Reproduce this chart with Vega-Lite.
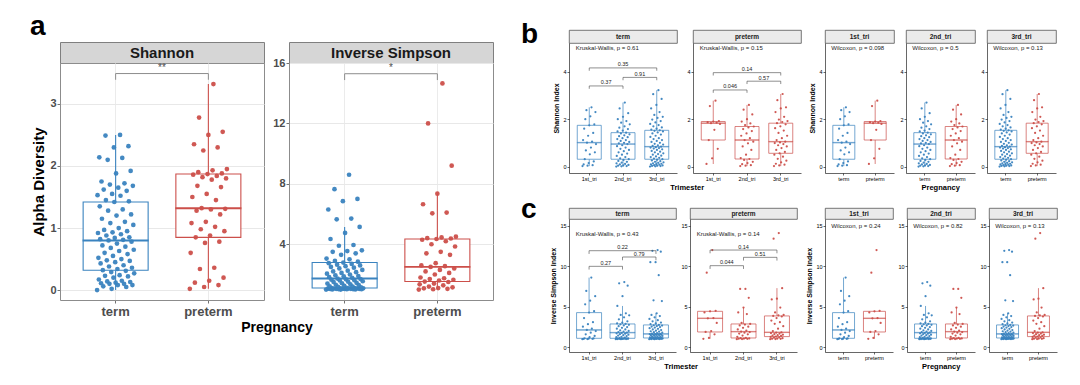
{"$schema":"https://vega.github.io/schema/vega-lite/v6.json","background":"white","padding":{"left":30,"top":13,"right":5,"bottom":5},
"config":{"font":"Liberation Sans","view":{"stroke":null},"axis":{"domainColor":"#000","domainWidth":0.6,"tickColor":"#000","tickWidth":0.6,"tickSize":2,"labelFontSize":5.5,"labelColor":"#000","titleFontSize":7,"titleFontWeight":"bold","titleColor":"#000","grid":false,"labelPadding":1,"titlePadding":3},"title":{"fontWeight":"bold","color":"#000"}},
"datasets":{
"A":[
{"p":"term","id":0,"s":0.0,"i":1.0},{"p":"term","id":33,"s":0.02,"i":1.0},{"p":"term","id":66,"s":0.05,"i":1.01},{"p":"term","id":14,"s":0.06,"i":1.01},{"p":"term","id":47,"s":0.08,"i":1.02},{"p":"term","id":80,"s":0.08,"i":1.02},{"p":"term","id":28,"s":0.1,"i":1.03},{"p":"term","id":61,"s":0.1,"i":1.03},{"p":"term","id":9,"s":0.11,"i":1.04},{"p":"term","id":42,"s":0.12,"i":1.04},
{"p":"term","id":75,"s":0.13,"i":1.05},{"p":"term","id":23,"s":0.14,"i":1.05},{"p":"term","id":56,"s":0.15,"i":1.05},{"p":"term","id":4,"s":0.17,"i":1.06},{"p":"term","id":37,"s":0.2,"i":1.06},{"p":"term","id":70,"s":0.22,"i":1.07},{"p":"term","id":18,"s":0.23,"i":1.07},{"p":"term","id":51,"s":0.24,"i":1.08},{"p":"term","id":84,"s":0.27,"i":1.08},{"p":"term","id":32,"s":0.29,"i":1.08},
{"p":"term","id":65,"s":0.31,"i":1.09},{"p":"term","id":13,"s":0.32,"i":1.1},{"p":"term","id":46,"s":0.34,"i":1.12},{"p":"term","id":79,"s":0.36,"i":1.15},{"p":"term","id":27,"s":0.38,"i":1.18},{"p":"term","id":60,"s":0.4,"i":1.2},{"p":"term","id":8,"s":0.43,"i":1.22},{"p":"term","id":41,"s":0.45,"i":1.25},{"p":"term","id":74,"s":0.47,"i":1.3},{"p":"term","id":22,"s":0.48,"i":1.32},
{"p":"term","id":55,"s":0.5,"i":1.35},{"p":"term","id":3,"s":0.52,"i":1.4},{"p":"term","id":36,"s":0.55,"i":1.42},{"p":"term","id":69,"s":0.58,"i":1.45},{"p":"term","id":17,"s":0.6,"i":1.5},{"p":"term","id":50,"s":0.63,"i":1.52},{"p":"term","id":83,"s":0.65,"i":1.55},{"p":"term","id":31,"s":0.68,"i":1.6},{"p":"term","id":64,"s":0.7,"i":1.62},{"p":"term","id":12,"s":0.72,"i":1.65},
{"p":"term","id":45,"s":0.75,"i":1.68},{"p":"term","id":78,"s":0.78,"i":1.7},{"p":"term","id":26,"s":0.8,"i":1.73},{"p":"term","id":59,"s":0.81,"i":1.78},{"p":"term","id":7,"s":0.82,"i":1.82},{"p":"term","id":40,"s":0.84,"i":1.88},{"p":"term","id":73,"s":0.85,"i":1.9},{"p":"term","id":21,"s":0.88,"i":1.95},{"p":"term","id":54,"s":0.9,"i":2.0},{"p":"term","id":2,"s":0.92,"i":2.05},
{"p":"term","id":35,"s":0.93,"i":2.1},{"p":"term","id":68,"s":0.95,"i":2.15},{"p":"term","id":16,"s":0.97,"i":2.2},{"p":"term","id":49,"s":1.0,"i":2.25},{"p":"term","id":82,"s":1.05,"i":2.3},{"p":"term","id":30,"s":1.08,"i":2.4},{"p":"term","id":63,"s":1.1,"i":2.45},{"p":"term","id":11,"s":1.15,"i":2.5},{"p":"term","id":44,"s":1.2,"i":2.55},{"p":"term","id":77,"s":1.22,"i":2.6},
{"p":"term","id":25,"s":1.28,"i":2.65},{"p":"term","id":58,"s":1.3,"i":2.7},{"p":"term","id":6,"s":1.35,"i":2.75},{"p":"term","id":39,"s":1.42,"i":2.79},{"p":"term","id":72,"s":1.43,"i":2.85},{"p":"term","id":20,"s":1.45,"i":2.9},{"p":"term","id":53,"s":1.52,"i":3.0},{"p":"term","id":1,"s":1.53,"i":3.05},{"p":"term","id":34,"s":1.55,"i":3.3},{"p":"term","id":67,"s":1.6,"i":3.4},
{"p":"term","id":15,"s":1.62,"i":3.5},{"p":"term","id":48,"s":1.65,"i":3.55},{"p":"term","id":81,"s":1.68,"i":3.6},{"p":"term","id":29,"s":1.7,"i":3.9},{"p":"term","id":62,"s":1.72,"i":3.95},{"p":"term","id":10,"s":1.75,"i":4.35},{"p":"term","id":43,"s":1.88,"i":4.75},{"p":"term","id":76,"s":1.92,"i":5.15},{"p":"term","id":24,"s":2.1,"i":5.65},{"p":"term","id":57,"s":2.13,"i":5.7},
{"p":"term","id":5,"s":2.14,"i":6.3},{"p":"term","id":38,"s":2.3,"i":6.85},{"p":"term","id":71,"s":2.32,"i":7.0},{"p":"term","id":19,"s":2.49,"i":7.65},{"p":"term","id":52,"s":2.5,"i":8.6},
{"p":"preterm","id":0,"s":0.02,"i":1.0},{"p":"preterm","id":17,"s":0.05,"i":1.02},{"p":"preterm","id":34,"s":0.08,"i":1.05},{"p":"preterm","id":6,"s":0.12,"i":1.08},{"p":"preterm","id":23,"s":0.15,"i":1.1},{"p":"preterm","id":40,"s":0.2,"i":1.15},{"p":"preterm","id":12,"s":0.34,"i":1.2},{"p":"preterm","id":29,"s":0.36,"i":1.28},{"p":"preterm","id":1,"s":0.6,"i":1.35},{"p":"preterm","id":18,"s":0.76,"i":1.4},
{"p":"preterm","id":35,"s":0.78,"i":1.5},{"p":"preterm","id":7,"s":0.85,"i":1.53},{"p":"preterm","id":24,"s":0.88,"i":1.6},{"p":"preterm","id":41,"s":0.95,"i":1.65},{"p":"preterm","id":13,"s":0.98,"i":1.7},{"p":"preterm","id":30,"s":1.02,"i":1.75},{"p":"preterm","id":2,"s":1.08,"i":1.8},{"p":"preterm","id":19,"s":1.1,"i":2.0},{"p":"preterm","id":36,"s":1.22,"i":2.1},{"p":"preterm","id":8,"s":1.28,"i":2.2},
{"p":"preterm","id":25,"s":1.3,"i":2.3},{"p":"preterm","id":42,"s":1.31,"i":2.4},{"p":"preterm","id":14,"s":1.32,"i":2.5},{"p":"preterm","id":31,"s":1.45,"i":2.55},{"p":"preterm","id":3,"s":1.5,"i":2.6},{"p":"preterm","id":20,"s":1.55,"i":2.75},{"p":"preterm","id":37,"s":1.66,"i":3.3},{"p":"preterm","id":9,"s":1.68,"i":3.4},{"p":"preterm","id":26,"s":1.78,"i":3.5},{"p":"preterm","id":43,"s":1.8,"i":3.85},
{"p":"preterm","id":15,"s":1.82,"i":4.0},{"p":"preterm","id":32,"s":1.84,"i":4.2},{"p":"preterm","id":4,"s":1.86,"i":4.3},{"p":"preterm","id":21,"s":1.87,"i":4.35},{"p":"preterm","id":38,"s":1.88,"i":4.38},{"p":"preterm","id":10,"s":1.9,"i":4.4},{"p":"preterm","id":27,"s":1.93,"i":4.45},{"p":"preterm","id":44,"s":1.95,"i":4.5},{"p":"preterm","id":16,"s":2.25,"i":6.05},{"p":"preterm","id":33,"s":2.3,"i":6.1},
{"p":"preterm","id":5,"s":2.35,"i":6.65},{"p":"preterm","id":22,"s":2.5,"i":7.35},{"p":"preterm","id":39,"s":2.55,"i":9.2},{"p":"preterm","id":11,"s":2.78,"i":12.0},{"p":"preterm","id":28,"s":3.32,"i":14.65}
],
"S":[
{"p":"term","t":"1st_tri","id":0,"s":0.02,"i":1.0},{"p":"term","t":"1st_tri","id":9,"s":0.04,"i":1.02},{"p":"term","t":"1st_tri","id":18,"s":0.06,"i":1.04},{"p":"term","t":"1st_tri","id":2,"s":0.09,"i":1.05},{"p":"term","t":"1st_tri","id":11,"s":0.15,"i":1.07},{"p":"term","t":"1st_tri","id":20,"s":0.22,"i":1.09},{"p":"term","t":"1st_tri","id":4,"s":0.31,"i":1.11},{"p":"term","t":"1st_tri","id":13,"s":0.52,"i":1.25},{"p":"term","t":"1st_tri","id":22,"s":0.6,"i":1.4},{"p":"term","t":"1st_tri","id":6,"s":0.68,"i":1.6},
{"p":"term","t":"1st_tri","id":15,"s":0.8,"i":1.8},{"p":"term","t":"1st_tri","id":24,"s":0.95,"i":2.0},{"p":"term","t":"1st_tri","id":8,"s":1.01,"i":2.14},{"p":"term","t":"1st_tri","id":17,"s":1.05,"i":2.3},{"p":"term","t":"1st_tri","id":1,"s":1.12,"i":2.55},{"p":"term","t":"1st_tri","id":10,"s":1.3,"i":2.85},{"p":"term","t":"1st_tri","id":19,"s":1.42,"i":3.1},{"p":"term","t":"1st_tri","id":3,"s":1.6,"i":3.6},{"p":"term","t":"1st_tri","id":12,"s":1.74,"i":4.28},{"p":"term","t":"1st_tri","id":21,"s":1.78,"i":4.45},
{"p":"term","t":"1st_tri","id":5,"s":2.0,"i":5.3},{"p":"term","t":"1st_tri","id":14,"s":2.12,"i":5.75},{"p":"term","t":"1st_tri","id":23,"s":2.3,"i":6.3},{"p":"term","t":"1st_tri","id":7,"s":2.38,"i":6.95},{"p":"term","t":"1st_tri","id":16,"s":2.5,"i":8.6},
{"p":"term","t":"2nd_tri","id":0,"s":0.0,"i":1.0},{"p":"term","t":"2nd_tri","id":20,"s":0.01,"i":1.0},{"p":"term","t":"2nd_tri","id":40,"s":0.02,"i":1.01},{"p":"term","t":"2nd_tri","id":7,"s":0.04,"i":1.02},{"p":"term","t":"2nd_tri","id":27,"s":0.05,"i":1.03},{"p":"term","t":"2nd_tri","id":47,"s":0.07,"i":1.04},{"p":"term","t":"2nd_tri","id":14,"s":0.09,"i":1.05},{"p":"term","t":"2nd_tri","id":34,"s":0.11,"i":1.06},{"p":"term","t":"2nd_tri","id":1,"s":0.14,"i":1.07},{"p":"term","t":"2nd_tri","id":21,"s":0.17,"i":1.08},
{"p":"term","t":"2nd_tri","id":41,"s":0.2,"i":1.09},{"p":"term","t":"2nd_tri","id":8,"s":0.24,"i":1.1},{"p":"term","t":"2nd_tri","id":28,"s":0.28,"i":1.1},{"p":"term","t":"2nd_tri","id":48,"s":0.31,"i":1.11},{"p":"term","t":"2nd_tri","id":15,"s":0.35,"i":1.15},{"p":"term","t":"2nd_tri","id":35,"s":0.4,"i":1.2},{"p":"term","t":"2nd_tri","id":2,"s":0.45,"i":1.25},{"p":"term","t":"2nd_tri","id":22,"s":0.5,"i":1.3},{"p":"term","t":"2nd_tri","id":42,"s":0.55,"i":1.38},{"p":"term","t":"2nd_tri","id":9,"s":0.6,"i":1.45},
{"p":"term","t":"2nd_tri","id":29,"s":0.65,"i":1.5},{"p":"term","t":"2nd_tri","id":49,"s":0.7,"i":1.56},{"p":"term","t":"2nd_tri","id":16,"s":0.75,"i":1.62},{"p":"term","t":"2nd_tri","id":36,"s":0.8,"i":1.68},{"p":"term","t":"2nd_tri","id":3,"s":0.86,"i":1.72},{"p":"term","t":"2nd_tri","id":23,"s":0.9,"i":1.77},{"p":"term","t":"2nd_tri","id":43,"s":0.95,"i":1.81},{"p":"term","t":"2nd_tri","id":10,"s":0.98,"i":1.88},{"p":"term","t":"2nd_tri","id":30,"s":1.0,"i":1.95},{"p":"term","t":"2nd_tri","id":50,"s":1.04,"i":2.02},
{"p":"term","t":"2nd_tri","id":17,"s":1.08,"i":2.1},{"p":"term","t":"2nd_tri","id":37,"s":1.12,"i":2.2},{"p":"term","t":"2nd_tri","id":4,"s":1.16,"i":2.3},{"p":"term","t":"2nd_tri","id":24,"s":1.2,"i":2.4},{"p":"term","t":"2nd_tri","id":44,"s":1.24,"i":2.5},{"p":"term","t":"2nd_tri","id":11,"s":1.28,"i":2.6},{"p":"term","t":"2nd_tri","id":31,"s":1.32,"i":2.7},{"p":"term","t":"2nd_tri","id":51,"s":1.36,"i":2.78},{"p":"term","t":"2nd_tri","id":18,"s":1.4,"i":2.84},{"p":"term","t":"2nd_tri","id":38,"s":1.43,"i":2.88},
{"p":"term","t":"2nd_tri","id":5,"s":1.48,"i":2.95},{"p":"term","t":"2nd_tri","id":25,"s":1.52,"i":3.05},{"p":"term","t":"2nd_tri","id":45,"s":1.58,"i":3.2},{"p":"term","t":"2nd_tri","id":12,"s":1.64,"i":3.45},{"p":"term","t":"2nd_tri","id":32,"s":1.7,"i":3.7},{"p":"term","t":"2nd_tri","id":52,"s":1.78,"i":3.95},{"p":"term","t":"2nd_tri","id":19,"s":1.85,"i":4.0},{"p":"term","t":"2nd_tri","id":39,"s":1.92,"i":4.2},{"p":"term","t":"2nd_tri","id":6,"s":2.0,"i":5.1},{"p":"term","t":"2nd_tri","id":26,"s":2.1,"i":6.3},
{"p":"term","t":"2nd_tri","id":46,"s":2.25,"i":7.6},{"p":"term","t":"2nd_tri","id":13,"s":2.45,"i":7.9},{"p":"term","t":"2nd_tri","id":33,"s":2.7,"i":8.05},
{"p":"term","t":"3rd_tri","id":0,"s":0.0,"i":1.0},{"p":"term","t":"3rd_tri","id":28,"s":0.01,"i":1.0},{"p":"term","t":"3rd_tri","id":56,"s":0.02,"i":1.01},{"p":"term","t":"3rd_tri","id":11,"s":0.03,"i":1.02},{"p":"term","t":"3rd_tri","id":39,"s":0.04,"i":1.03},{"p":"term","t":"3rd_tri","id":67,"s":0.05,"i":1.04},{"p":"term","t":"3rd_tri","id":22,"s":0.06,"i":1.05},{"p":"term","t":"3rd_tri","id":50,"s":0.08,"i":1.05},{"p":"term","t":"3rd_tri","id":5,"s":0.09,"i":1.06},{"p":"term","t":"3rd_tri","id":33,"s":0.1,"i":1.07},
{"p":"term","t":"3rd_tri","id":61,"s":0.12,"i":1.08},{"p":"term","t":"3rd_tri","id":16,"s":0.14,"i":1.09},{"p":"term","t":"3rd_tri","id":44,"s":0.16,"i":1.1},{"p":"term","t":"3rd_tri","id":72,"s":0.18,"i":1.1},{"p":"term","t":"3rd_tri","id":27,"s":0.2,"i":1.11},{"p":"term","t":"3rd_tri","id":55,"s":0.23,"i":1.12},{"p":"term","t":"3rd_tri","id":10,"s":0.26,"i":1.13},{"p":"term","t":"3rd_tri","id":38,"s":0.29,"i":1.14},{"p":"term","t":"3rd_tri","id":66,"s":0.31,"i":1.15},{"p":"term","t":"3rd_tri","id":21,"s":0.34,"i":1.18},
{"p":"term","t":"3rd_tri","id":49,"s":0.37,"i":1.2},{"p":"term","t":"3rd_tri","id":4,"s":0.4,"i":1.23},{"p":"term","t":"3rd_tri","id":32,"s":0.43,"i":1.26},{"p":"term","t":"3rd_tri","id":60,"s":0.46,"i":1.3},{"p":"term","t":"3rd_tri","id":15,"s":0.5,"i":1.33},{"p":"term","t":"3rd_tri","id":43,"s":0.53,"i":1.36},{"p":"term","t":"3rd_tri","id":71,"s":0.56,"i":1.4},{"p":"term","t":"3rd_tri","id":26,"s":0.6,"i":1.43},{"p":"term","t":"3rd_tri","id":54,"s":0.63,"i":1.46},{"p":"term","t":"3rd_tri","id":9,"s":0.66,"i":1.5},
{"p":"term","t":"3rd_tri","id":37,"s":0.7,"i":1.52},{"p":"term","t":"3rd_tri","id":65,"s":0.73,"i":1.55},{"p":"term","t":"3rd_tri","id":20,"s":0.76,"i":1.58},{"p":"term","t":"3rd_tri","id":48,"s":0.78,"i":1.6},{"p":"term","t":"3rd_tri","id":3,"s":0.8,"i":1.62},{"p":"term","t":"3rd_tri","id":31,"s":0.82,"i":1.63},{"p":"term","t":"3rd_tri","id":59,"s":0.84,"i":1.65},{"p":"term","t":"3rd_tri","id":14,"s":0.87,"i":1.7},{"p":"term","t":"3rd_tri","id":42,"s":0.9,"i":1.75},{"p":"term","t":"3rd_tri","id":70,"s":0.93,"i":1.8},
{"p":"term","t":"3rd_tri","id":25,"s":0.96,"i":1.86},{"p":"term","t":"3rd_tri","id":53,"s":1.0,"i":1.92},{"p":"term","t":"3rd_tri","id":8,"s":1.04,"i":1.98},{"p":"term","t":"3rd_tri","id":36,"s":1.08,"i":2.05},{"p":"term","t":"3rd_tri","id":64,"s":1.12,"i":2.12},{"p":"term","t":"3rd_tri","id":19,"s":1.16,"i":2.2},{"p":"term","t":"3rd_tri","id":47,"s":1.2,"i":2.28},{"p":"term","t":"3rd_tri","id":2,"s":1.25,"i":2.36},{"p":"term","t":"3rd_tri","id":30,"s":1.3,"i":2.44},{"p":"term","t":"3rd_tri","id":58,"s":1.35,"i":2.5},
{"p":"term","t":"3rd_tri","id":13,"s":1.4,"i":2.56},{"p":"term","t":"3rd_tri","id":41,"s":1.44,"i":2.62},{"p":"term","t":"3rd_tri","id":69,"s":1.48,"i":2.68},{"p":"term","t":"3rd_tri","id":24,"s":1.51,"i":2.72},{"p":"term","t":"3rd_tri","id":52,"s":1.53,"i":2.76},{"p":"term","t":"3rd_tri","id":7,"s":1.56,"i":2.85},{"p":"term","t":"3rd_tri","id":35,"s":1.6,"i":2.95},{"p":"term","t":"3rd_tri","id":63,"s":1.65,"i":3.05},{"p":"term","t":"3rd_tri","id":18,"s":1.7,"i":3.2},{"p":"term","t":"3rd_tri","id":46,"s":1.75,"i":3.35},
{"p":"term","t":"3rd_tri","id":1,"s":1.8,"i":3.5},{"p":"term","t":"3rd_tri","id":29,"s":1.86,"i":3.7},{"p":"term","t":"3rd_tri","id":57,"s":1.92,"i":3.85},{"p":"term","t":"3rd_tri","id":12,"s":1.98,"i":4.0},{"p":"term","t":"3rd_tri","id":40,"s":2.05,"i":4.2},{"p":"term","t":"3rd_tri","id":68,"s":2.1,"i":5.7},{"p":"term","t":"3rd_tri","id":23,"s":2.18,"i":5.8},{"p":"term","t":"3rd_tri","id":51,"s":2.3,"i":8.9},{"p":"term","t":"3rd_tri","id":6,"s":2.45,"i":10.5},{"p":"term","t":"3rd_tri","id":34,"s":2.6,"i":10.5},
{"p":"term","t":"3rd_tri","id":62,"s":2.85,"i":11.8},{"p":"term","t":"3rd_tri","id":17,"s":3.05,"i":11.9},{"p":"term","t":"3rd_tri","id":45,"s":3.22,"i":12.0},
{"p":"preterm","t":"1st_tri","id":0,"s":0.11,"i":1.05},{"p":"preterm","t":"1st_tri","id":5,"s":0.35,"i":1.15},{"p":"preterm","t":"1st_tri","id":10,"s":0.75,"i":1.6},{"p":"preterm","t":"1st_tri","id":2,"s":1.12,"i":1.89},{"p":"preterm","t":"1st_tri","id":7,"s":1.55,"i":2.0},{"p":"preterm","t":"1st_tri","id":12,"s":1.8,"i":3.0},{"p":"preterm","t":"1st_tri","id":4,"s":1.83,"i":3.58},{"p":"preterm","t":"1st_tri","id":9,"s":1.85,"i":3.6},{"p":"preterm","t":"1st_tri","id":1,"s":1.87,"i":4.3},{"p":"preterm","t":"1st_tri","id":6,"s":1.9,"i":4.44},
{"p":"preterm","t":"1st_tri","id":11,"s":1.92,"i":4.5},{"p":"preterm","t":"1st_tri","id":3,"s":2.55,"i":9.2},{"p":"preterm","t":"1st_tri","id":8,"s":2.78,"i":12.0},
{"p":"preterm","t":"2nd_tri","id":0,"s":0.02,"i":1.0},{"p":"preterm","t":"2nd_tri","id":11,"s":0.04,"i":1.02},{"p":"preterm","t":"2nd_tri","id":22,"s":0.06,"i":1.04},{"p":"preterm","t":"2nd_tri","id":4,"s":0.1,"i":1.06},{"p":"preterm","t":"2nd_tri","id":15,"s":0.15,"i":1.08},{"p":"preterm","t":"2nd_tri","id":26,"s":0.2,"i":1.1},{"p":"preterm","t":"2nd_tri","id":8,"s":0.28,"i":1.13},{"p":"preterm","t":"2nd_tri","id":19,"s":0.32,"i":1.15},{"p":"preterm","t":"2nd_tri","id":1,"s":0.36,"i":1.3},{"p":"preterm","t":"2nd_tri","id":12,"s":0.5,"i":1.45},
{"p":"preterm","t":"2nd_tri","id":23,"s":0.7,"i":1.6},{"p":"preterm","t":"2nd_tri","id":5,"s":0.85,"i":1.7},{"p":"preterm","t":"2nd_tri","id":16,"s":0.98,"i":1.8},{"p":"preterm","t":"2nd_tri","id":27,"s":1.05,"i":1.88},{"p":"preterm","t":"2nd_tri","id":9,"s":1.12,"i":1.93},{"p":"preterm","t":"2nd_tri","id":20,"s":1.2,"i":2.05},{"p":"preterm","t":"2nd_tri","id":2,"s":1.3,"i":2.2},{"p":"preterm","t":"2nd_tri","id":13,"s":1.4,"i":2.4},{"p":"preterm","t":"2nd_tri","id":24,"s":1.5,"i":2.55},{"p":"preterm","t":"2nd_tri","id":6,"s":1.58,"i":2.7},
{"p":"preterm","t":"2nd_tri","id":17,"s":1.65,"i":2.8},{"p":"preterm","t":"2nd_tri","id":28,"s":1.69,"i":2.88},{"p":"preterm","t":"2nd_tri","id":10,"s":1.75,"i":3.0},{"p":"preterm","t":"2nd_tri","id":21,"s":1.82,"i":4.1},{"p":"preterm","t":"2nd_tri","id":3,"s":1.9,"i":4.3},{"p":"preterm","t":"2nd_tri","id":14,"s":2.0,"i":4.9},{"p":"preterm","t":"2nd_tri","id":25,"s":2.2,"i":6.1},{"p":"preterm","t":"2nd_tri","id":7,"s":2.4,"i":7.2},{"p":"preterm","t":"2nd_tri","id":18,"s":2.6,"i":7.2},
{"p":"preterm","t":"3rd_tri","id":0,"s":0.02,"i":1.0},{"p":"preterm","t":"3rd_tri","id":14,"s":0.05,"i":1.02},{"p":"preterm","t":"3rd_tri","id":28,"s":0.08,"i":1.04},{"p":"preterm","t":"3rd_tri","id":5,"s":0.12,"i":1.06},{"p":"preterm","t":"3rd_tri","id":19,"s":0.18,"i":1.08},{"p":"preterm","t":"3rd_tri","id":33,"s":0.25,"i":1.12},{"p":"preterm","t":"3rd_tri","id":10,"s":0.33,"i":1.18},{"p":"preterm","t":"3rd_tri","id":24,"s":0.42,"i":1.22},{"p":"preterm","t":"3rd_tri","id":1,"s":0.5,"i":1.28},{"p":"preterm","t":"3rd_tri","id":15,"s":0.56,"i":1.32},
{"p":"preterm","t":"3rd_tri","id":29,"s":0.62,"i":1.4},{"p":"preterm","t":"3rd_tri","id":6,"s":0.7,"i":1.45},{"p":"preterm","t":"3rd_tri","id":20,"s":0.78,"i":1.5},{"p":"preterm","t":"3rd_tri","id":34,"s":0.85,"i":1.55},{"p":"preterm","t":"3rd_tri","id":11,"s":0.9,"i":1.62},{"p":"preterm","t":"3rd_tri","id":25,"s":0.95,"i":1.7},{"p":"preterm","t":"3rd_tri","id":2,"s":0.99,"i":1.76},{"p":"preterm","t":"3rd_tri","id":16,"s":1.02,"i":1.8},{"p":"preterm","t":"3rd_tri","id":30,"s":1.05,"i":1.85},{"p":"preterm","t":"3rd_tri","id":7,"s":1.12,"i":2.0},
{"p":"preterm","t":"3rd_tri","id":21,"s":1.2,"i":2.3},{"p":"preterm","t":"3rd_tri","id":35,"s":1.3,"i":2.6},{"p":"preterm","t":"3rd_tri","id":12,"s":1.42,"i":2.9},{"p":"preterm","t":"3rd_tri","id":26,"s":1.52,"i":3.1},{"p":"preterm","t":"3rd_tri","id":3,"s":1.62,"i":3.3},{"p":"preterm","t":"3rd_tri","id":17,"s":1.7,"i":3.6},{"p":"preterm","t":"3rd_tri","id":31,"s":1.78,"i":3.8},{"p":"preterm","t":"3rd_tri","id":8,"s":1.83,"i":3.87},{"p":"preterm","t":"3rd_tri","id":22,"s":1.88,"i":3.95},{"p":"preterm","t":"3rd_tri","id":36,"s":1.92,"i":4.0},
{"p":"preterm","t":"3rd_tri","id":13,"s":1.98,"i":4.3},{"p":"preterm","t":"3rd_tri","id":27,"s":2.1,"i":4.9},{"p":"preterm","t":"3rd_tri","id":4,"s":2.3,"i":5.9},{"p":"preterm","t":"3rd_tri","id":18,"s":2.45,"i":6.0},{"p":"preterm","t":"3rd_tri","id":32,"s":2.5,"i":7.3},{"p":"preterm","t":"3rd_tri","id":9,"s":2.8,"i":13.4},{"p":"preterm","t":"3rd_tri","id":23,"s":3.06,"i":14.1}
],
"BR":[
{"g":"aS","x1":1,"x2":2,"xm":1.5,"y":3.49,"yt":3.39,"lab":"**"},
{"g":"aI","x1":1,"x2":2,"xm":1.5,"y":15.29,"yt":14.87,"lab":"*"},
{"g":"bT","x1":1,"x2":2,"xm":1.5,"y":3.4,"yt":3.28,"lab":"0.37"},
{"g":"bT","x1":2,"x2":3,"xm":2.5,"y":3.76,"yt":3.64,"lab":"0.91"},
{"g":"bT","x1":1,"x2":3,"xm":2,"y":4.16,"yt":4.04,"lab":"0.35"},
{"g":"bP","x1":1,"x2":2,"xm":1.5,"y":3.23,"yt":3.11,"lab":"0.046"},
{"g":"bP","x1":2,"x2":3,"xm":2.5,"y":3.6,"yt":3.48,"lab":"0.57"},
{"g":"bP","x1":1,"x2":3,"xm":2,"y":3.96,"yt":3.84,"lab":"0.14"},
{"g":"cT","x1":1,"x2":2,"xm":1.5,"y":9.99,"yt":9.59,"lab":"0.27"},
{"g":"cT","x1":2,"x2":3,"xm":2.5,"y":11.14,"yt":10.74,"lab":"0.79"},
{"g":"cT","x1":1,"x2":3,"xm":2,"y":11.92,"yt":11.52,"lab":"0.22"},
{"g":"cP","x1":1,"x2":2,"xm":1.5,"y":10.07,"yt":9.67,"lab":"0.044"},
{"g":"cP","x1":2,"x2":3,"xm":2.5,"y":11.1,"yt":10.7,"lab":"0.51"},
{"g":"cP","x1":1,"x2":3,"xm":2,"y":12.0,"yt":11.6,"lab":"0.14"}
],
"TT":[
{"g":"bT","x":0.6,"y":5.0,"lab":"Kruskal-Wallis, p = 0.61"},
{"g":"bP","x":0.6,"y":5.0,"lab":"Kruskal-Wallis, p = 0.15"},
{"g":"b1","x":0.6,"y":5.0,"lab":"Wilcoxon, p = 0.098"},
{"g":"b2","x":0.6,"y":5.0,"lab":"Wilcoxon, p = 0.5"},
{"g":"b3","x":0.6,"y":5.0,"lab":"Wilcoxon, p = 0.13"},
{"g":"cT","x":0.6,"y":14.0,"lab":"Kruskal-Wallis, p = 0.43"},
{"g":"cP","x":0.6,"y":14.0,"lab":"Kruskal-Wallis, p = 0.14"},
{"g":"c1","x":0.6,"y":15.0,"lab":"Wilcoxon, p = 0.24"},
{"g":"c2","x":0.6,"y":15.0,"lab":"Wilcoxon, p = 0.82"},
{"g":"c3","x":0.6,"y":15.0,"lab":"Wilcoxon, p = 0.13"}
]
},
"spacing":27,
"resolve":{"scale":{"xOffset":"independent"}},
"hconcat":[
{"spacing":0,"resolve":{"scale":{"xOffset":"independent"}},"vconcat":[
{"width":1,"height":11,"data":{"values":[{"lab":"a"}]},"mark":{"type":"text","fontSize":28,"fontWeight":"bold","color":"#000","align":"left","baseline":"bottom","dx":-30.5,"dy":5.5},"encoding":{"text":{"field":"lab","type":"nominal"}}},
{"title":{"text":"Pregnancy","orient":"bottom","frame":"bounds","anchor":"middle","fontSize":14,"offset":2,"dx":14.5},"spacing":7,"resolve":{"scale":{"xOffset":"independent"}},"hconcat":[
{"bounds":"flush","spacing":0,"vconcat":[
{"width":204,"height":21,"data":{"values":[{"lab":"Shannon"}]},"mark":{"type":"text","fontSize":15,"fontWeight":"bold","color":"#1a1a1a"},"encoding":{"text":{"field":"lab","type":"nominal"}},"view":{"fill":"#d6d6d6","stroke":"#7f7f7f","strokeWidth":1}},
{"width":204,"height":237,"view":{"stroke":"#8c8c8c","strokeWidth":1},"resolve":{"scale":{"x":"independent"}},"layer":[
{"data":{"name":"A"},"mark":{"type":"boxplot","extent":1.5,"size":65,"outliers":false,"box":{"fill":"white","strokeWidth":1.1},"median":{"fillOpacity":0,"strokeWidth":1.1,"thickness":0.8},"rule":{"strokeWidth":1.1}},
"encoding":{"x":{"field":"p","type":"nominal","scale":{"domain":["term","preterm"],"paddingInner":0,"paddingOuter":0.1},"axis":{"title":null,"labelAngle":0,"labelFontSize":13,"labelFontWeight":"bold","labelColor":"#4d4d4d","tickColor":"#4d4d4d","tickSize":3,"tickWidth":0.8,"labelPadding":2,"domain":false,"grid":true,"gridColor":"#ebebeb","gridWidth":1,"bandPosition":0.5}},
"y":{"field":"s","type":"quantitative","scale":{"domain":[-0.16,3.66],"nice":false,"zero":false},"axis":{"values":[0,0.5,1,1.5,2,2.5,3,3.5],"format":"d","labelOverlap":false,"labelExpr":"datum.value % 1 === 0 ? datum.label : ''","title":"Alpha Diversity","titleFontSize":15,"titleFontWeight":"bold","titleColor":"#000","titlePadding":3,"labelFontSize":11,"labelFontWeight":"bold","labelColor":"#4d4d4d","labelPadding":1,"tickSize":3,"tickWidth":0.8,"tickColor":{"condition":{"test":"datum.value % 1 !== 0","value":"transparent"},"value":"#4d4d4d"},"domain":false,"grid":true,"gridWidth":1,"gridColor":{"condition":{"test":"datum.value % 1 !== 0","value":"#f5f5f5"},"value":"#e8e8e8"}}},
"stroke":{"field":"p","type":"nominal","scale":{"domain":["term","preterm"],"range":["#3a83bf","#cc4f4a"]},"legend":null}}},
{"data":{"name":"A"},"transform":[{"window":[{"op":"percent_rank","as":"jit"}],"sort":[{"field":"id"}],"groupby":["p"]}],"mark":{"type":"circle","size":22,"opacity":0.95},
"encoding":{"x":{"field":"p","type":"nominal","scale":{"domain":["term","preterm"],"paddingInner":0,"paddingOuter":0.1},"axis":null},"xOffset":{"field":"jit","type":"quantitative","scale":{"domain":[-0.75,1.75]}},"y":{"field":"s","type":"quantitative"},"color":{"field":"p","type":"nominal","scale":{"domain":["term","preterm"],"range":["#3a83bf","#cc4f4a"]},"legend":null}}},
{"data":{"name":"BR"},"transform":[{"filter":{"field":"g","equal":"aS"}}],"mark":{"type":"rule","color":"#8c8c8c","strokeWidth":1},"encoding":{"x":{"field":"x1","type":"quantitative","scale":{"domain":[0.4,2.6],"nice":false,"zero":false},"axis":null},"x2":{"field":"x2"},"y":{"field":"y","type":"quantitative"}}},
{"data":{"name":"BR"},"transform":[{"filter":{"field":"g","equal":"aS"}}],"mark":{"type":"rule","color":"#8c8c8c","strokeWidth":1},"encoding":{"x":{"field":"x1","type":"quantitative","scale":{"domain":[0.4,2.6],"nice":false,"zero":false},"axis":null},"y":{"field":"y","type":"quantitative"},"y2":{"field":"yt"}}},
{"data":{"name":"BR"},"transform":[{"filter":{"field":"g","equal":"aS"}}],"mark":{"type":"rule","color":"#8c8c8c","strokeWidth":1},"encoding":{"x":{"field":"x2","type":"quantitative","scale":{"domain":[0.4,2.6],"nice":false,"zero":false},"axis":null},"y":{"field":"y","type":"quantitative"},"y2":{"field":"yt"}}},
{"data":{"name":"BR"},"transform":[{"filter":{"field":"g","equal":"aS"}}],"mark":{"type":"text","fontSize":10,"baseline":"bottom","dy":-1,"color":"#4d4d4d"},"encoding":{"x":{"field":"xm","type":"quantitative","scale":{"domain":[0.4,2.6],"nice":false,"zero":false},"axis":null},"y":{"field":"y","type":"quantitative"},"text":{"field":"lab"}}}
]}
]},
{"bounds":"flush","spacing":0,"vconcat":[
{"width":204,"height":21,"data":{"values":[{"lab":"Inverse Simpson"}]},"mark":{"type":"text","fontSize":15,"fontWeight":"bold","color":"#1a1a1a"},"encoding":{"text":{"field":"lab","type":"nominal"}},"view":{"fill":"#d6d6d6","stroke":"#7f7f7f","strokeWidth":1}},
{"width":204,"height":237,"view":{"stroke":"#8c8c8c","strokeWidth":1},"resolve":{"scale":{"x":"independent"}},"layer":[
{"data":{"name":"A"},"mark":{"type":"boxplot","extent":1.5,"size":65,"outliers":false,"box":{"fill":"white","strokeWidth":1.1},"median":{"fillOpacity":0,"strokeWidth":1.1,"thickness":0.8},"rule":{"strokeWidth":1.1}},
"encoding":{"x":{"field":"p","type":"nominal","scale":{"domain":["term","preterm"],"paddingInner":0,"paddingOuter":0.1},"axis":{"title":null,"labelAngle":0,"labelFontSize":13,"labelFontWeight":"bold","labelColor":"#4d4d4d","tickColor":"#4d4d4d","tickSize":3,"tickWidth":0.8,"labelPadding":2,"domain":false,"grid":true,"gridColor":"#ebebeb","gridWidth":1,"bandPosition":0.5}},
"y":{"field":"i","type":"quantitative","scale":{"domain":[0.31,16],"nice":false,"zero":false},"axis":{"values":[4,8,12,16],"labelOverlap":false,"title":null,"labelFontSize":11,"labelFontWeight":"bold","labelColor":"#4d4d4d","labelPadding":1,"tickSize":3,"tickWidth":0.8,"tickColor":"#4d4d4d","domain":false,"grid":true,"gridWidth":1,"gridColor":"#e8e8e8"}},
"stroke":{"field":"p","type":"nominal","scale":{"domain":["term","preterm"],"range":["#3a83bf","#cc4f4a"]},"legend":null}}},
{"data":{"name":"A"},"transform":[{"window":[{"op":"percent_rank","as":"jit"}],"sort":[{"field":"id"}],"groupby":["p"]}],"mark":{"type":"circle","size":22,"opacity":0.95},
"encoding":{"x":{"field":"p","type":"nominal","scale":{"domain":["term","preterm"],"paddingInner":0,"paddingOuter":0.1},"axis":null},"xOffset":{"field":"jit","type":"quantitative","scale":{"domain":[-0.75,1.75]}},"y":{"field":"i","type":"quantitative"},"color":{"field":"p","type":"nominal","scale":{"domain":["term","preterm"],"range":["#3a83bf","#cc4f4a"]},"legend":null}}},
{"data":{"name":"BR"},"transform":[{"filter":{"field":"g","equal":"aI"}}],"mark":{"type":"rule","color":"#8c8c8c","strokeWidth":1},"encoding":{"x":{"field":"x1","type":"quantitative","scale":{"domain":[0.4,2.6],"nice":false,"zero":false},"axis":null},"x2":{"field":"x2"},"y":{"field":"y","type":"quantitative"}}},
{"data":{"name":"BR"},"transform":[{"filter":{"field":"g","equal":"aI"}}],"mark":{"type":"rule","color":"#8c8c8c","strokeWidth":1},"encoding":{"x":{"field":"x1","type":"quantitative","scale":{"domain":[0.4,2.6],"nice":false,"zero":false},"axis":null},"y":{"field":"y","type":"quantitative"},"y2":{"field":"yt"}}},
{"data":{"name":"BR"},"transform":[{"filter":{"field":"g","equal":"aI"}}],"mark":{"type":"rule","color":"#8c8c8c","strokeWidth":1},"encoding":{"x":{"field":"x2","type":"quantitative","scale":{"domain":[0.4,2.6],"nice":false,"zero":false},"axis":null},"y":{"field":"y","type":"quantitative"},"y2":{"field":"yt"}}},
{"data":{"name":"BR"},"transform":[{"filter":{"field":"g","equal":"aI"}}],"mark":{"type":"text","fontSize":10,"baseline":"bottom","dy":-1,"color":"#4d4d4d"},"encoding":{"x":{"field":"xm","type":"quantitative","scale":{"domain":[0.4,2.6],"nice":false,"zero":false},"axis":null},"y":{"field":"y","type":"quantitative"},"text":{"field":"lab"}}}
]}
]}
]}
]},
{"spacing":4,"resolve":{"scale":{"xOffset":"independent"}},"vconcat":[
{"title":{"text":"b","anchor":"start","frame":"group","fontSize":28,"dx":-48,"offset":-19},"spacing":6,"resolve":{"scale":{"xOffset":"independent"}},"hconcat":[
{"title":{"text":"Trimester","orient":"bottom","frame":"bounds","anchor":"middle","fontSize":7.5,"offset":2,"dx":10},"spacing":8,"resolve":{"scale":{"xOffset":"independent"}},"hconcat":[
{"bounds":"flush","spacing":0,"vconcat":[
{"width":108,"height":13,"data":{"values":[{"lab":"term"}]},"mark":{"type":"text","fontSize":6.5,"fontWeight":"bold","color":"#1a1a1a"},"encoding":{"text":{"field":"lab","type":"nominal"}},"view":{"fill":"#ebebeb","stroke":"#555","strokeWidth":0.8}},
{"width":108,"height":130,"resolve":{"scale":{"x":"independent"}},"layer":[
{"data":{"name":"S"},"transform":[{"filter":{"field":"p","equal":"term"}}],"mark":{"type":"boxplot","extent":1.5,"size":24,"outliers":false,"box":{"fill":"white","strokeWidth":0.7},"median":{"fillOpacity":0,"strokeWidth":0.6,"thickness":0.5},"rule":{"strokeWidth":0.7}},"encoding":{"x":{"field":"t","type":"nominal","scale":{"domain":["1st_tri","2nd_tri","3rd_tri"],"paddingInner":0,"paddingOuter":0.1},"axis":{"title":null,"labelAngle":0}},"y":{"field":"s","type":"quantitative","scale":{"domain":[-0.27,5.21],"nice":false,"zero":false},"axis":{"values":[0,1,2,3,4,5],"title":"Shannon Index"}},"stroke":{"field":"p","type":"nominal","scale":{"domain":["term","preterm"],"range":["#3a83bf","#cc4f4a"]},"legend":null}}},
{"data":{"name":"S"},"transform":[{"filter":{"field":"p","equal":"term"}},{"window":[{"op":"percent_rank","as":"jit"}],"sort":[{"field":"id"}],"groupby":["p","t"]}],"mark":{"type":"circle","size":5,"opacity":0.95},"encoding":{"x":{"field":"t","type":"nominal","scale":{"domain":["1st_tri","2nd_tri","3rd_tri"],"paddingInner":0,"paddingOuter":0.1},"axis":null},"xOffset":{"field":"jit","type":"quantitative","scale":{"domain":[-0.75,1.75]}},"y":{"field":"s","type":"quantitative"},"color":{"field":"p","type":"nominal","scale":{"domain":["term","preterm"],"range":["#3a83bf","#cc4f4a"]},"legend":null}}},
{"data":{"name":"BR"},"transform":[{"filter":{"field":"g","equal":"bT"}}],"mark":{"type":"rule","color":"#444","strokeWidth":0.6},"encoding":{"x":{"field":"x1","type":"quantitative","scale":{"domain":[0.4,3.6],"nice":false,"zero":false},"axis":null},"x2":{"field":"x2"},"y":{"field":"y","type":"quantitative"}}},
{"data":{"name":"BR"},"transform":[{"filter":{"field":"g","equal":"bT"}}],"mark":{"type":"rule","color":"#444","strokeWidth":0.6},"encoding":{"x":{"field":"x1","type":"quantitative","scale":{"domain":[0.4,3.6],"nice":false,"zero":false},"axis":null},"y":{"field":"y","type":"quantitative"},"y2":{"field":"yt"}}},
{"data":{"name":"BR"},"transform":[{"filter":{"field":"g","equal":"bT"}}],"mark":{"type":"rule","color":"#444","strokeWidth":0.6},"encoding":{"x":{"field":"x2","type":"quantitative","scale":{"domain":[0.4,3.6],"nice":false,"zero":false},"axis":null},"y":{"field":"y","type":"quantitative"},"y2":{"field":"yt"}}},
{"data":{"name":"BR"},"transform":[{"filter":{"field":"g","equal":"bT"}}],"mark":{"type":"text","fontSize":5.5,"baseline":"bottom","dy":-0.5,"color":"#222"},"encoding":{"x":{"field":"xm","type":"quantitative","scale":{"domain":[0.4,3.6],"nice":false,"zero":false},"axis":null},"y":{"field":"y","type":"quantitative"},"text":{"field":"lab"}}},
{"data":{"name":"TT"},"transform":[{"filter":{"field":"g","equal":"bT"}}],"mark":{"type":"text","fontSize":6,"align":"left","color":"#222"},"encoding":{"x":{"field":"x","type":"quantitative","scale":{"domain":[0.4,3.6],"nice":false,"zero":false},"axis":null},"y":{"field":"y","type":"quantitative"},"text":{"field":"lab"}}}
]}
]},
{"bounds":"flush","spacing":0,"vconcat":[
{"width":108,"height":13,"data":{"values":[{"lab":"preterm"}]},"mark":{"type":"text","fontSize":6.5,"fontWeight":"bold","color":"#1a1a1a"},"encoding":{"text":{"field":"lab","type":"nominal"}},"view":{"fill":"#ebebeb","stroke":"#555","strokeWidth":0.8}},
{"width":108,"height":130,"resolve":{"scale":{"x":"independent"}},"layer":[
{"data":{"name":"S"},"transform":[{"filter":{"field":"p","equal":"preterm"}}],"mark":{"type":"boxplot","extent":1.5,"size":24,"outliers":false,"box":{"fill":"white","strokeWidth":0.7},"median":{"fillOpacity":0,"strokeWidth":0.6,"thickness":0.5},"rule":{"strokeWidth":0.7}},"encoding":{"x":{"field":"t","type":"nominal","scale":{"domain":["1st_tri","2nd_tri","3rd_tri"],"paddingInner":0,"paddingOuter":0.1},"axis":{"title":null,"labelAngle":0}},"y":{"field":"s","type":"quantitative","scale":{"domain":[-0.27,5.21],"nice":false,"zero":false},"axis":{"values":[0,1,2,3,4,5],"title":null}},"stroke":{"field":"p","type":"nominal","scale":{"domain":["term","preterm"],"range":["#3a83bf","#cc4f4a"]},"legend":null}}},
{"data":{"name":"S"},"transform":[{"filter":{"field":"p","equal":"preterm"}},{"window":[{"op":"percent_rank","as":"jit"}],"sort":[{"field":"id"}],"groupby":["p","t"]}],"mark":{"type":"circle","size":5,"opacity":0.95},"encoding":{"x":{"field":"t","type":"nominal","scale":{"domain":["1st_tri","2nd_tri","3rd_tri"],"paddingInner":0,"paddingOuter":0.1},"axis":null},"xOffset":{"field":"jit","type":"quantitative","scale":{"domain":[-0.75,1.75]}},"y":{"field":"s","type":"quantitative"},"color":{"field":"p","type":"nominal","scale":{"domain":["term","preterm"],"range":["#3a83bf","#cc4f4a"]},"legend":null}}},
{"data":{"name":"BR"},"transform":[{"filter":{"field":"g","equal":"bP"}}],"mark":{"type":"rule","color":"#444","strokeWidth":0.6},"encoding":{"x":{"field":"x1","type":"quantitative","scale":{"domain":[0.4,3.6],"nice":false,"zero":false},"axis":null},"x2":{"field":"x2"},"y":{"field":"y","type":"quantitative"}}},
{"data":{"name":"BR"},"transform":[{"filter":{"field":"g","equal":"bP"}}],"mark":{"type":"rule","color":"#444","strokeWidth":0.6},"encoding":{"x":{"field":"x1","type":"quantitative","scale":{"domain":[0.4,3.6],"nice":false,"zero":false},"axis":null},"y":{"field":"y","type":"quantitative"},"y2":{"field":"yt"}}},
{"data":{"name":"BR"},"transform":[{"filter":{"field":"g","equal":"bP"}}],"mark":{"type":"rule","color":"#444","strokeWidth":0.6},"encoding":{"x":{"field":"x2","type":"quantitative","scale":{"domain":[0.4,3.6],"nice":false,"zero":false},"axis":null},"y":{"field":"y","type":"quantitative"},"y2":{"field":"yt"}}},
{"data":{"name":"BR"},"transform":[{"filter":{"field":"g","equal":"bP"}}],"mark":{"type":"text","fontSize":5.5,"baseline":"bottom","dy":-0.5,"color":"#222"},"encoding":{"x":{"field":"xm","type":"quantitative","scale":{"domain":[0.4,3.6],"nice":false,"zero":false},"axis":null},"y":{"field":"y","type":"quantitative"},"text":{"field":"lab"}}},
{"data":{"name":"TT"},"transform":[{"filter":{"field":"g","equal":"bP"}}],"mark":{"type":"text","fontSize":6,"align":"left","color":"#222"},"encoding":{"x":{"field":"x","type":"quantitative","scale":{"domain":[0.4,3.6],"nice":false,"zero":false},"axis":null},"y":{"field":"y","type":"quantitative"},"text":{"field":"lab"}}}
]}
]}
]},
{"title":{"text":"Pregnancy","orient":"bottom","frame":"bounds","anchor":"middle","fontSize":7.5,"offset":2,"dx":8},"spacing":4,"resolve":{"scale":{"xOffset":"independent"}},"hconcat":[
{"bounds":"flush","spacing":0,"vconcat":[
{"width":69,"height":13,"data":{"values":[{"lab":"1st_tri"}]},"mark":{"type":"text","fontSize":6.5,"fontWeight":"bold","color":"#1a1a1a"},"encoding":{"text":{"field":"lab","type":"nominal"}},"view":{"fill":"#ebebeb","stroke":"#555","strokeWidth":0.8}},
{"width":69,"height":130,"resolve":{"scale":{"x":"independent"}},"layer":[
{"data":{"name":"S"},"transform":[{"filter":{"field":"t","equal":"1st_tri"}}],"mark":{"type":"boxplot","extent":1.5,"size":22,"outliers":false,"box":{"fill":"white","strokeWidth":0.7},"median":{"fillOpacity":0,"strokeWidth":0.6,"thickness":0.5},"rule":{"strokeWidth":0.7}},"encoding":{"x":{"field":"p","type":"nominal","scale":{"domain":["term","preterm"],"paddingInner":0,"paddingOuter":0.1},"axis":{"title":null,"labelAngle":0}},"y":{"field":"s","type":"quantitative","scale":{"domain":[-0.27,5.21],"nice":false,"zero":false},"axis":{"values":[0,1,2,3,4,5],"title":"Shannon Index"}},"stroke":{"field":"p","type":"nominal","scale":{"domain":["term","preterm"],"range":["#3a83bf","#cc4f4a"]},"legend":null}}},
{"data":{"name":"S"},"transform":[{"filter":{"field":"t","equal":"1st_tri"}},{"window":[{"op":"percent_rank","as":"jit"}],"sort":[{"field":"id"}],"groupby":["p","t"]}],"mark":{"type":"circle","size":5,"opacity":0.95},"encoding":{"x":{"field":"p","type":"nominal","scale":{"domain":["term","preterm"],"paddingInner":0,"paddingOuter":0.1},"axis":null},"xOffset":{"field":"jit","type":"quantitative","scale":{"domain":[-0.75,1.75]}},"y":{"field":"s","type":"quantitative"},"color":{"field":"p","type":"nominal","scale":{"domain":["term","preterm"],"range":["#3a83bf","#cc4f4a"]},"legend":null}}},
{"data":{"name":"TT"},"transform":[{"filter":{"field":"g","equal":"b1"}}],"mark":{"type":"text","fontSize":6,"align":"left","color":"#222"},"encoding":{"x":{"field":"x","type":"quantitative","scale":{"domain":[0.4,2.6],"nice":false,"zero":false},"axis":null},"y":{"field":"y","type":"quantitative"},"text":{"field":"lab"}}}
]}
]},
{"bounds":"flush","spacing":0,"vconcat":[
{"width":69,"height":13,"data":{"values":[{"lab":"2nd_tri"}]},"mark":{"type":"text","fontSize":6.5,"fontWeight":"bold","color":"#1a1a1a"},"encoding":{"text":{"field":"lab","type":"nominal"}},"view":{"fill":"#ebebeb","stroke":"#555","strokeWidth":0.8}},
{"width":69,"height":130,"resolve":{"scale":{"x":"independent"}},"layer":[
{"data":{"name":"S"},"transform":[{"filter":{"field":"t","equal":"2nd_tri"}}],"mark":{"type":"boxplot","extent":1.5,"size":22,"outliers":false,"box":{"fill":"white","strokeWidth":0.7},"median":{"fillOpacity":0,"strokeWidth":0.6,"thickness":0.5},"rule":{"strokeWidth":0.7}},"encoding":{"x":{"field":"p","type":"nominal","scale":{"domain":["term","preterm"],"paddingInner":0,"paddingOuter":0.1},"axis":{"title":null,"labelAngle":0}},"y":{"field":"s","type":"quantitative","scale":{"domain":[-0.27,5.21],"nice":false,"zero":false},"axis":{"values":[0,1,2,3,4,5],"title":null}},"stroke":{"field":"p","type":"nominal","scale":{"domain":["term","preterm"],"range":["#3a83bf","#cc4f4a"]},"legend":null}}},
{"data":{"name":"S"},"transform":[{"filter":{"field":"t","equal":"2nd_tri"}},{"window":[{"op":"percent_rank","as":"jit"}],"sort":[{"field":"id"}],"groupby":["p","t"]}],"mark":{"type":"circle","size":5,"opacity":0.95},"encoding":{"x":{"field":"p","type":"nominal","scale":{"domain":["term","preterm"],"paddingInner":0,"paddingOuter":0.1},"axis":null},"xOffset":{"field":"jit","type":"quantitative","scale":{"domain":[-0.75,1.75]}},"y":{"field":"s","type":"quantitative"},"color":{"field":"p","type":"nominal","scale":{"domain":["term","preterm"],"range":["#3a83bf","#cc4f4a"]},"legend":null}}},
{"data":{"name":"TT"},"transform":[{"filter":{"field":"g","equal":"b2"}}],"mark":{"type":"text","fontSize":6,"align":"left","color":"#222"},"encoding":{"x":{"field":"x","type":"quantitative","scale":{"domain":[0.4,2.6],"nice":false,"zero":false},"axis":null},"y":{"field":"y","type":"quantitative"},"text":{"field":"lab"}}}
]}
]},
{"bounds":"flush","spacing":0,"vconcat":[
{"width":69,"height":13,"data":{"values":[{"lab":"3rd_tri"}]},"mark":{"type":"text","fontSize":6.5,"fontWeight":"bold","color":"#1a1a1a"},"encoding":{"text":{"field":"lab","type":"nominal"}},"view":{"fill":"#ebebeb","stroke":"#555","strokeWidth":0.8}},
{"width":69,"height":130,"resolve":{"scale":{"x":"independent"}},"layer":[
{"data":{"name":"S"},"transform":[{"filter":{"field":"t","equal":"3rd_tri"}}],"mark":{"type":"boxplot","extent":1.5,"size":22,"outliers":false,"box":{"fill":"white","strokeWidth":0.7},"median":{"fillOpacity":0,"strokeWidth":0.6,"thickness":0.5},"rule":{"strokeWidth":0.7}},"encoding":{"x":{"field":"p","type":"nominal","scale":{"domain":["term","preterm"],"paddingInner":0,"paddingOuter":0.1},"axis":{"title":null,"labelAngle":0}},"y":{"field":"s","type":"quantitative","scale":{"domain":[-0.27,5.21],"nice":false,"zero":false},"axis":{"values":[0,1,2,3,4,5],"title":null}},"stroke":{"field":"p","type":"nominal","scale":{"domain":["term","preterm"],"range":["#3a83bf","#cc4f4a"]},"legend":null}}},
{"data":{"name":"S"},"transform":[{"filter":{"field":"t","equal":"3rd_tri"}},{"window":[{"op":"percent_rank","as":"jit"}],"sort":[{"field":"id"}],"groupby":["p","t"]}],"mark":{"type":"circle","size":5,"opacity":0.95},"encoding":{"x":{"field":"p","type":"nominal","scale":{"domain":["term","preterm"],"paddingInner":0,"paddingOuter":0.1},"axis":null},"xOffset":{"field":"jit","type":"quantitative","scale":{"domain":[-0.75,1.75]}},"y":{"field":"s","type":"quantitative"},"color":{"field":"p","type":"nominal","scale":{"domain":["term","preterm"],"range":["#3a83bf","#cc4f4a"]},"legend":null}}},
{"data":{"name":"TT"},"transform":[{"filter":{"field":"g","equal":"b3"}}],"mark":{"type":"text","fontSize":6,"align":"left","color":"#222"},"encoding":{"x":{"field":"x","type":"quantitative","scale":{"domain":[0.4,2.6],"nice":false,"zero":false},"axis":null},"y":{"field":"y","type":"quantitative"},"text":{"field":"lab"}}}
]}
]}
]}
]},
{"title":{"text":"c","anchor":"start","frame":"group","fontSize":28,"dx":-48,"offset":-16},"spacing":7,"resolve":{"scale":{"xOffset":"independent"}},"hconcat":[
{"title":{"text":"Trimester","orient":"bottom","frame":"bounds","anchor":"middle","fontSize":7.5,"offset":2,"dx":7.5},"spacing":3,"resolve":{"scale":{"xOffset":"independent"}},"hconcat":[
{"bounds":"flush","spacing":0,"vconcat":[
{"width":107,"height":11,"data":{"values":[{"lab":"term"}]},"mark":{"type":"text","fontSize":6.5,"fontWeight":"bold","color":"#1a1a1a"},"encoding":{"text":{"field":"lab","type":"nominal"}},"view":{"fill":"#ebebeb","stroke":"#555","strokeWidth":0.8}},
{"width":107,"height":133,"resolve":{"scale":{"x":"independent"}},"layer":[
{"data":{"name":"S"},"transform":[{"filter":{"field":"p","equal":"term"}}],"mark":{"type":"boxplot","extent":1.5,"size":25,"outliers":false,"box":{"fill":"white","strokeWidth":0.7},"median":{"fillOpacity":0,"strokeWidth":0.6,"thickness":0.5},"rule":{"strokeWidth":0.7}},"encoding":{"x":{"field":"t","type":"nominal","scale":{"domain":["1st_tri","2nd_tri","3rd_tri"],"paddingInner":0,"paddingOuter":0.1},"axis":{"title":null,"labelAngle":0}},"y":{"field":"i","type":"quantitative","scale":{"domain":[-0.58,15.83],"nice":false,"zero":false},"axis":{"values":[0,5,10,15],"title":"Inverse Simpson Index"}},"stroke":{"field":"p","type":"nominal","scale":{"domain":["term","preterm"],"range":["#3a83bf","#cc4f4a"]},"legend":null}}},
{"data":{"name":"S"},"transform":[{"filter":{"field":"p","equal":"term"}},{"window":[{"op":"percent_rank","as":"jit"}],"sort":[{"field":"id"}],"groupby":["p","t"]}],"mark":{"type":"circle","size":5,"opacity":0.95},"encoding":{"x":{"field":"t","type":"nominal","scale":{"domain":["1st_tri","2nd_tri","3rd_tri"],"paddingInner":0,"paddingOuter":0.1},"axis":null},"xOffset":{"field":"jit","type":"quantitative","scale":{"domain":[-0.75,1.75]}},"y":{"field":"i","type":"quantitative"},"color":{"field":"p","type":"nominal","scale":{"domain":["term","preterm"],"range":["#3a83bf","#cc4f4a"]},"legend":null}}},
{"data":{"name":"BR"},"transform":[{"filter":{"field":"g","equal":"cT"}}],"mark":{"type":"rule","color":"#444","strokeWidth":0.6},"encoding":{"x":{"field":"x1","type":"quantitative","scale":{"domain":[0.4,3.6],"nice":false,"zero":false},"axis":null},"x2":{"field":"x2"},"y":{"field":"y","type":"quantitative"}}},
{"data":{"name":"BR"},"transform":[{"filter":{"field":"g","equal":"cT"}}],"mark":{"type":"rule","color":"#444","strokeWidth":0.6},"encoding":{"x":{"field":"x1","type":"quantitative","scale":{"domain":[0.4,3.6],"nice":false,"zero":false},"axis":null},"y":{"field":"y","type":"quantitative"},"y2":{"field":"yt"}}},
{"data":{"name":"BR"},"transform":[{"filter":{"field":"g","equal":"cT"}}],"mark":{"type":"rule","color":"#444","strokeWidth":0.6},"encoding":{"x":{"field":"x2","type":"quantitative","scale":{"domain":[0.4,3.6],"nice":false,"zero":false},"axis":null},"y":{"field":"y","type":"quantitative"},"y2":{"field":"yt"}}},
{"data":{"name":"BR"},"transform":[{"filter":{"field":"g","equal":"cT"}}],"mark":{"type":"text","fontSize":5.5,"baseline":"bottom","dy":-0.5,"color":"#222"},"encoding":{"x":{"field":"xm","type":"quantitative","scale":{"domain":[0.4,3.6],"nice":false,"zero":false},"axis":null},"y":{"field":"y","type":"quantitative"},"text":{"field":"lab"}}},
{"data":{"name":"TT"},"transform":[{"filter":{"field":"g","equal":"cT"}}],"mark":{"type":"text","fontSize":6,"align":"left","color":"#222"},"encoding":{"x":{"field":"x","type":"quantitative","scale":{"domain":[0.4,3.6],"nice":false,"zero":false},"axis":null},"y":{"field":"y","type":"quantitative"},"text":{"field":"lab"}}}
]}
]},
{"bounds":"flush","spacing":0,"vconcat":[
{"width":107,"height":11,"data":{"values":[{"lab":"preterm"}]},"mark":{"type":"text","fontSize":6.5,"fontWeight":"bold","color":"#1a1a1a"},"encoding":{"text":{"field":"lab","type":"nominal"}},"view":{"fill":"#ebebeb","stroke":"#555","strokeWidth":0.8}},
{"width":107,"height":133,"resolve":{"scale":{"x":"independent"}},"layer":[
{"data":{"name":"S"},"transform":[{"filter":{"field":"p","equal":"preterm"}}],"mark":{"type":"boxplot","extent":1.5,"size":25,"outliers":false,"box":{"fill":"white","strokeWidth":0.7},"median":{"fillOpacity":0,"strokeWidth":0.6,"thickness":0.5},"rule":{"strokeWidth":0.7}},"encoding":{"x":{"field":"t","type":"nominal","scale":{"domain":["1st_tri","2nd_tri","3rd_tri"],"paddingInner":0,"paddingOuter":0.1},"axis":{"title":null,"labelAngle":0}},"y":{"field":"i","type":"quantitative","scale":{"domain":[-0.58,15.83],"nice":false,"zero":false},"axis":{"values":[0,5,10,15],"title":null}},"stroke":{"field":"p","type":"nominal","scale":{"domain":["term","preterm"],"range":["#3a83bf","#cc4f4a"]},"legend":null}}},
{"data":{"name":"S"},"transform":[{"filter":{"field":"p","equal":"preterm"}},{"window":[{"op":"percent_rank","as":"jit"}],"sort":[{"field":"id"}],"groupby":["p","t"]}],"mark":{"type":"circle","size":5,"opacity":0.95},"encoding":{"x":{"field":"t","type":"nominal","scale":{"domain":["1st_tri","2nd_tri","3rd_tri"],"paddingInner":0,"paddingOuter":0.1},"axis":null},"xOffset":{"field":"jit","type":"quantitative","scale":{"domain":[-0.75,1.75]}},"y":{"field":"i","type":"quantitative"},"color":{"field":"p","type":"nominal","scale":{"domain":["term","preterm"],"range":["#3a83bf","#cc4f4a"]},"legend":null}}},
{"data":{"name":"BR"},"transform":[{"filter":{"field":"g","equal":"cP"}}],"mark":{"type":"rule","color":"#444","strokeWidth":0.6},"encoding":{"x":{"field":"x1","type":"quantitative","scale":{"domain":[0.4,3.6],"nice":false,"zero":false},"axis":null},"x2":{"field":"x2"},"y":{"field":"y","type":"quantitative"}}},
{"data":{"name":"BR"},"transform":[{"filter":{"field":"g","equal":"cP"}}],"mark":{"type":"rule","color":"#444","strokeWidth":0.6},"encoding":{"x":{"field":"x1","type":"quantitative","scale":{"domain":[0.4,3.6],"nice":false,"zero":false},"axis":null},"y":{"field":"y","type":"quantitative"},"y2":{"field":"yt"}}},
{"data":{"name":"BR"},"transform":[{"filter":{"field":"g","equal":"cP"}}],"mark":{"type":"rule","color":"#444","strokeWidth":0.6},"encoding":{"x":{"field":"x2","type":"quantitative","scale":{"domain":[0.4,3.6],"nice":false,"zero":false},"axis":null},"y":{"field":"y","type":"quantitative"},"y2":{"field":"yt"}}},
{"data":{"name":"BR"},"transform":[{"filter":{"field":"g","equal":"cP"}}],"mark":{"type":"text","fontSize":5.5,"baseline":"bottom","dy":-0.5,"color":"#222"},"encoding":{"x":{"field":"xm","type":"quantitative","scale":{"domain":[0.4,3.6],"nice":false,"zero":false},"axis":null},"y":{"field":"y","type":"quantitative"},"text":{"field":"lab"}}},
{"data":{"name":"TT"},"transform":[{"filter":{"field":"g","equal":"cP"}}],"mark":{"type":"text","fontSize":6,"align":"left","color":"#222"},"encoding":{"x":{"field":"x","type":"quantitative","scale":{"domain":[0.4,3.6],"nice":false,"zero":false},"axis":null},"y":{"field":"y","type":"quantitative"},"text":{"field":"lab"}}}
]}
]}
]},
{"title":{"text":"Pregnancy","orient":"bottom","frame":"bounds","anchor":"middle","fontSize":7.5,"offset":2,"dx":9.5},"spacing":3,"resolve":{"scale":{"xOffset":"independent"}},"hconcat":[
{"bounds":"flush","spacing":0,"vconcat":[
{"width":68,"height":11,"data":{"values":[{"lab":"1st_tri"}]},"mark":{"type":"text","fontSize":6.5,"fontWeight":"bold","color":"#1a1a1a"},"encoding":{"text":{"field":"lab","type":"nominal"}},"view":{"fill":"#ebebeb","stroke":"#555","strokeWidth":0.8}},
{"width":68,"height":133,"resolve":{"scale":{"x":"independent"}},"layer":[
{"data":{"name":"S"},"transform":[{"filter":{"field":"t","equal":"1st_tri"}}],"mark":{"type":"boxplot","extent":1.5,"size":22,"outliers":false,"box":{"fill":"white","strokeWidth":0.7},"median":{"fillOpacity":0,"strokeWidth":0.6,"thickness":0.5},"rule":{"strokeWidth":0.7}},"encoding":{"x":{"field":"p","type":"nominal","scale":{"domain":["term","preterm"],"paddingInner":0,"paddingOuter":0.1},"axis":{"title":null,"labelAngle":0}},"y":{"field":"i","type":"quantitative","scale":{"domain":[-0.58,15.83],"nice":false,"zero":false},"axis":{"values":[0,5,10,15],"title":"Inverse Simpson Index"}},"stroke":{"field":"p","type":"nominal","scale":{"domain":["term","preterm"],"range":["#3a83bf","#cc4f4a"]},"legend":null}}},
{"data":{"name":"S"},"transform":[{"filter":{"field":"t","equal":"1st_tri"}},{"window":[{"op":"percent_rank","as":"jit"}],"sort":[{"field":"id"}],"groupby":["p","t"]}],"mark":{"type":"circle","size":5,"opacity":0.95},"encoding":{"x":{"field":"p","type":"nominal","scale":{"domain":["term","preterm"],"paddingInner":0,"paddingOuter":0.1},"axis":null},"xOffset":{"field":"jit","type":"quantitative","scale":{"domain":[-0.75,1.75]}},"y":{"field":"i","type":"quantitative"},"color":{"field":"p","type":"nominal","scale":{"domain":["term","preterm"],"range":["#3a83bf","#cc4f4a"]},"legend":null}}},
{"data":{"name":"TT"},"transform":[{"filter":{"field":"g","equal":"c1"}}],"mark":{"type":"text","fontSize":6,"align":"left","color":"#222"},"encoding":{"x":{"field":"x","type":"quantitative","scale":{"domain":[0.4,2.6],"nice":false,"zero":false},"axis":null},"y":{"field":"y","type":"quantitative"},"text":{"field":"lab"}}}
]}
]},
{"bounds":"flush","spacing":0,"vconcat":[
{"width":68,"height":11,"data":{"values":[{"lab":"2nd_tri"}]},"mark":{"type":"text","fontSize":6.5,"fontWeight":"bold","color":"#1a1a1a"},"encoding":{"text":{"field":"lab","type":"nominal"}},"view":{"fill":"#ebebeb","stroke":"#555","strokeWidth":0.8}},
{"width":68,"height":133,"resolve":{"scale":{"x":"independent"}},"layer":[
{"data":{"name":"S"},"transform":[{"filter":{"field":"t","equal":"2nd_tri"}}],"mark":{"type":"boxplot","extent":1.5,"size":22,"outliers":false,"box":{"fill":"white","strokeWidth":0.7},"median":{"fillOpacity":0,"strokeWidth":0.6,"thickness":0.5},"rule":{"strokeWidth":0.7}},"encoding":{"x":{"field":"p","type":"nominal","scale":{"domain":["term","preterm"],"paddingInner":0,"paddingOuter":0.1},"axis":{"title":null,"labelAngle":0}},"y":{"field":"i","type":"quantitative","scale":{"domain":[-0.58,15.83],"nice":false,"zero":false},"axis":{"values":[0,5,10,15],"title":null}},"stroke":{"field":"p","type":"nominal","scale":{"domain":["term","preterm"],"range":["#3a83bf","#cc4f4a"]},"legend":null}}},
{"data":{"name":"S"},"transform":[{"filter":{"field":"t","equal":"2nd_tri"}},{"window":[{"op":"percent_rank","as":"jit"}],"sort":[{"field":"id"}],"groupby":["p","t"]}],"mark":{"type":"circle","size":5,"opacity":0.95},"encoding":{"x":{"field":"p","type":"nominal","scale":{"domain":["term","preterm"],"paddingInner":0,"paddingOuter":0.1},"axis":null},"xOffset":{"field":"jit","type":"quantitative","scale":{"domain":[-0.75,1.75]}},"y":{"field":"i","type":"quantitative"},"color":{"field":"p","type":"nominal","scale":{"domain":["term","preterm"],"range":["#3a83bf","#cc4f4a"]},"legend":null}}},
{"data":{"name":"TT"},"transform":[{"filter":{"field":"g","equal":"c2"}}],"mark":{"type":"text","fontSize":6,"align":"left","color":"#222"},"encoding":{"x":{"field":"x","type":"quantitative","scale":{"domain":[0.4,2.6],"nice":false,"zero":false},"axis":null},"y":{"field":"y","type":"quantitative"},"text":{"field":"lab"}}}
]}
]},
{"bounds":"flush","spacing":0,"vconcat":[
{"width":68,"height":11,"data":{"values":[{"lab":"3rd_tri"}]},"mark":{"type":"text","fontSize":6.5,"fontWeight":"bold","color":"#1a1a1a"},"encoding":{"text":{"field":"lab","type":"nominal"}},"view":{"fill":"#ebebeb","stroke":"#555","strokeWidth":0.8}},
{"width":68,"height":133,"resolve":{"scale":{"x":"independent"}},"layer":[
{"data":{"name":"S"},"transform":[{"filter":{"field":"t","equal":"3rd_tri"}}],"mark":{"type":"boxplot","extent":1.5,"size":22,"outliers":false,"box":{"fill":"white","strokeWidth":0.7},"median":{"fillOpacity":0,"strokeWidth":0.6,"thickness":0.5},"rule":{"strokeWidth":0.7}},"encoding":{"x":{"field":"p","type":"nominal","scale":{"domain":["term","preterm"],"paddingInner":0,"paddingOuter":0.1},"axis":{"title":null,"labelAngle":0}},"y":{"field":"i","type":"quantitative","scale":{"domain":[-0.58,15.83],"nice":false,"zero":false},"axis":{"values":[0,5,10,15],"title":null}},"stroke":{"field":"p","type":"nominal","scale":{"domain":["term","preterm"],"range":["#3a83bf","#cc4f4a"]},"legend":null}}},
{"data":{"name":"S"},"transform":[{"filter":{"field":"t","equal":"3rd_tri"}},{"window":[{"op":"percent_rank","as":"jit"}],"sort":[{"field":"id"}],"groupby":["p","t"]}],"mark":{"type":"circle","size":5,"opacity":0.95},"encoding":{"x":{"field":"p","type":"nominal","scale":{"domain":["term","preterm"],"paddingInner":0,"paddingOuter":0.1},"axis":null},"xOffset":{"field":"jit","type":"quantitative","scale":{"domain":[-0.75,1.75]}},"y":{"field":"i","type":"quantitative"},"color":{"field":"p","type":"nominal","scale":{"domain":["term","preterm"],"range":["#3a83bf","#cc4f4a"]},"legend":null}}},
{"data":{"name":"TT"},"transform":[{"filter":{"field":"g","equal":"c3"}}],"mark":{"type":"text","fontSize":6,"align":"left","color":"#222"},"encoding":{"x":{"field":"x","type":"quantitative","scale":{"domain":[0.4,2.6],"nice":false,"zero":false},"axis":null},"y":{"field":"y","type":"quantitative"},"text":{"field":"lab"}}}
]}
]}
]}
]}
]}
]}
